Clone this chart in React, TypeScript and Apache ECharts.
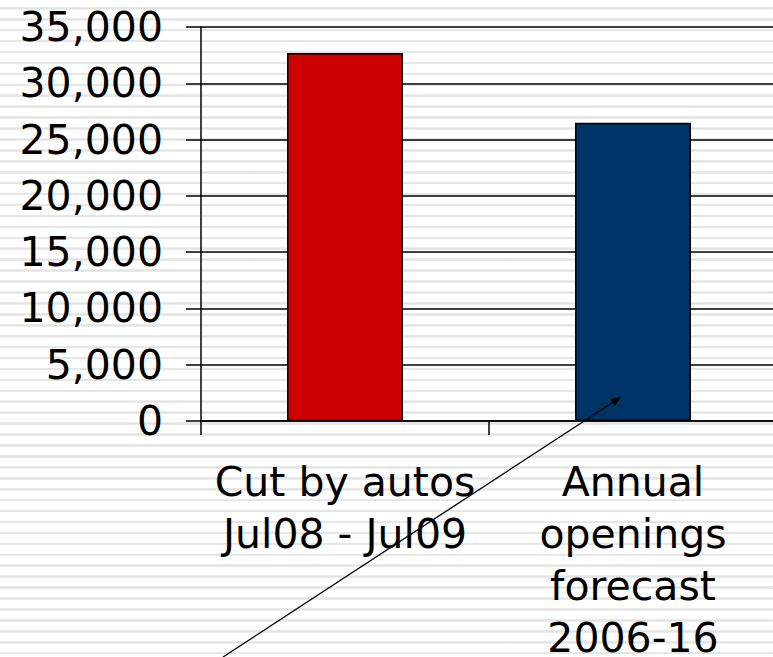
import React, { useEffect, useRef } from "react";
import * as echarts from "echarts";

const categories = ["Cut by autos\nJul08 - Jul09", "Annual\nopenings\nforecast\n2006-16"];
const values = [32700, 26500];
const barColors = ["#CC0000", "#003366"];

export default function App() {
  const ref = useRef<HTMLDivElement>(null);
  useEffect(() => {
    if (!ref.current) return;
    const chart = echarts.init(ref.current, null, { renderer: "svg" });
    const font = "'DejaVu Sans', Verdana, sans-serif";
    // arrow annotation
    const tip = [621, 397];
    const tail = [223, 657];
    const dx = tip[0] - tail[0];
    const dy = tip[1] - tail[1];
    const len = Math.sqrt(dx * dx + dy * dy);
    const ux = dx / len;
    const uy = dy / len;
    const bx = tip[0] - ux * 10;
    const by = tip[1] - uy * 10;
    const px = -uy * 4;
    const py = ux * 4;
    chart.setOption({
      animation: false,
      backgroundColor: "transparent",
      grid: {
        left: 201,
        top: 27,
        height: 394,
        width: 576,
        containLabel: false,
        outerBoundsMode: "none",
      },
      xAxis: {
        type: "category",
        data: categories,
        boundaryGap: true,
        axisLine: { show: true, lineStyle: { color: "#000", width: 1.5 } },
        axisTick: { show: true, length: 14, inside: false, alignWithLabel: false, lineStyle: { color: "#000", width: 1.5 } },
        axisLabel: { color: "#000", fontSize: 41, fontFamily: font, lineHeight: 52, margin: 35, interval: 0 },
        splitLine: { show: false },
      },
      yAxis: {
        type: "value",
        min: 0,
        max: 35000,
        interval: 5000,
        axisLine: { show: true, lineStyle: { color: "#000", width: 1.5 } },
        axisTick: { show: true, length: 15, lineStyle: { color: "#000", width: 1.5 } },
        axisLabel: {
          color: "#000",
          fontSize: 41,
          fontFamily: font,
          margin: 38,
          formatter: (v: number) => v.toLocaleString("en-US"),
        },
        splitLine: { show: true, lineStyle: { color: "#000", width: 1.5 } },
      },
      series: [
        {
          type: "bar",
          barWidth: 116,
          data: values.map((v, i) => ({
            value: v,
            itemStyle: { color: barColors[i], borderColor: "#000", borderWidth: 1.5 },
          })),
        },
      ],
      graphic: [
        {
          type: "line",
          shape: { x1: tail[0], y1: tail[1], x2: bx, y2: by },
          style: { stroke: "#000", lineWidth: 1.3 },
          z: 100,
        },
        {
          type: "polygon",
          shape: {
            points: [
              [tip[0], tip[1]],
              [bx + px, by + py],
              [bx - px, by - py],
            ],
          },
          style: { fill: "#000" },
          z: 100,
        },
      ],
    });
    return () => chart.dispose();
  }, []);
  return (
    <div
      ref={ref}
      style={{
        position: "fixed",
        left: 0,
        top: 0,
        width: 773,
        height: 657,
        background:
          "repeating-linear-gradient(to bottom, #ffffff 0px, #ffffff 7px, #ededed 7px, #e2e2e2 8.3px, #ededed 9.6px, #ffffff 9.6px, #ffffff 10.93px)",
      }}
    />
  );
}
